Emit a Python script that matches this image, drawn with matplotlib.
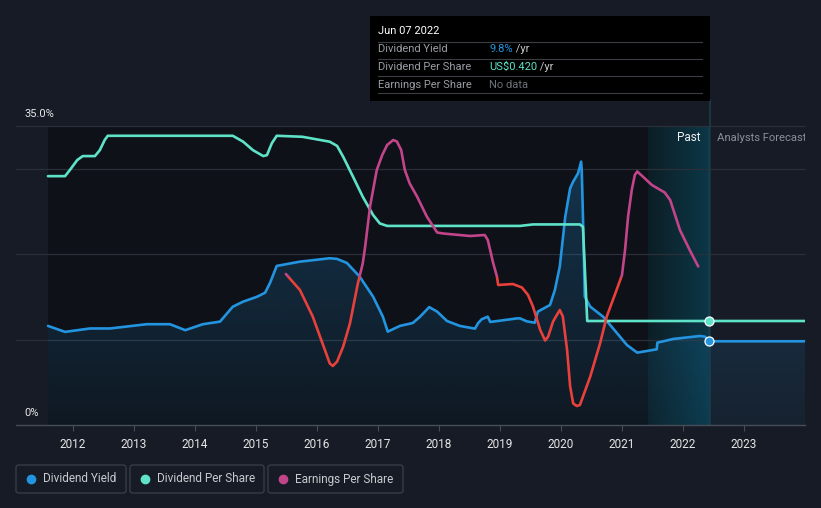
import numpy as np
import matplotlib
matplotlib.use("Agg")
import matplotlib.pyplot as plt
from matplotlib.patches import Rectangle, FancyBboxPatch
from matplotlib.lines import Line2D

# ---------------- data ----------------
dy_years = [2011.59, 2011.87, 2012.28, 2012.61, 2013.21, 2013.59, 2013.84, 2014.13, 2014.41,
            2014.62, 2014.79, 2015.02, 2015.15, 2015.23, 2015.34, 2015.72, 2016.21, 2016.33,
            2016.49, 2016.70, 2016.92, 2017.08, 2017.16, 2017.36, 2017.57, 2017.69, 2017.84,
            2017.97, 2018.13, 2018.34, 2018.59, 2018.64, 2018.70, 2018.80, 2018.84, 2019.28,
            2019.33, 2019.44, 2019.57, 2019.62, 2019.82, 2019.90, 2019.98, 2020.07, 2020.15,
            2020.20, 2020.28, 2020.33, 2020.34, 2020.36, 2020.39, 2020.48, 2020.69, 2020.92,
            2021.08, 2021.25, 2021.34, 2021.57, 2021.58, 2021.84, 2022.28, 2022.36, 2022.43,
            2024.00]
dy_values = [11.6, 10.9, 11.3, 11.3, 11.8, 11.8, 11.1, 11.8, 12.1,
             13.85, 14.44, 15.02, 15.49, 16.63, 18.62, 19.12, 19.52, 19.44,
             18.97, 17.37, 15.02, 12.68, 10.93, 11.6, 11.94, 12.68, 13.80,
             13.27, 12.18, 11.6, 11.28, 11.91, 12.38, 12.68, 12.06, 12.48,
             12.48, 12.13, 11.97, 13.27, 14.05, 15.81, 18.54, 24.39, 27.72,
             28.49, 29.47, 30.83, 29.86, 24.39, 15.02, 13.85, 12.68, 10.74,
             9.37, 8.47, 8.58, 8.86, 9.64, 10.07, 10.42, 10.34, 9.8,
             9.8]

dps_years = [2011.59, 2011.87, 2011.95, 2012.07, 2012.16, 2012.36, 2012.44, 2012.52, 2012.57,
             2014.62, 2014.79, 2014.95, 2015.12, 2015.18, 2015.26, 2015.34, 2015.76, 2016.21,
             2016.33, 2016.43, 2016.59, 2016.75, 2016.92, 2017.03, 2017.15, 2019.33, 2019.54,
             2020.31, 2020.36, 2020.43, 2022.43, 2024.00]
dps_values = [1.005, 1.005, 1.030, 1.070, 1.086, 1.086, 1.110, 1.151, 1.168,
              1.168, 1.144, 1.110, 1.086, 1.090, 1.138, 1.168, 1.164, 1.144,
              1.127, 1.083, 1.003, 0.922, 0.848, 0.814, 0.804, 0.804, 0.810,
              0.810, 0.800, 0.420, 0.420, 0.420]

eps_years = [2015.49, 2015.72, 2015.93, 2016.13, 2016.21, 2016.26, 2016.33, 2016.43, 2016.54,
             2016.67, 2016.75, 2016.79, 2016.87, 2016.98, 2017.07, 2017.15, 2017.25, 2017.31,
             2017.38, 2017.44, 2017.52, 2017.64, 2017.80, 2017.97, 2018.07, 2018.51, 2018.75,
             2018.80, 2018.89, 2018.95, 2018.97, 2019.21, 2019.36, 2019.46, 2019.54, 2019.66,
             2019.74, 2019.79, 2019.87, 2019.98, 2020.03, 2020.10, 2020.15, 2020.20, 2020.26,
             2020.31, 2020.48, 2020.64, 2020.75, 2020.89, 2021.00, 2021.05, 2021.10, 2021.16,
             2021.21, 2021.25, 2021.34, 2021.49, 2021.70, 2021.79, 2021.95, 2022.11, 2022.25]
eps_values = [0.006, -0.026, -0.079, -0.146, -0.173, -0.178, -0.169, -0.139, -0.093,
              -0.013, 0.027, 0.061, 0.141, 0.214, 0.244, 0.264, 0.274, 0.271,
              0.254, 0.214, 0.187, 0.161, 0.121, 0.089, 0.087, 0.082, 0.084,
              0.074, 0.027, 0.001, -0.016, -0.014, -0.021, -0.036, -0.059, -0.106,
              -0.127, -0.119, -0.089, -0.066, -0.079, -0.146, -0.219, -0.253, -0.258,
              -0.256, -0.199, -0.133, -0.079, -0.033, 0.004, 0.054, 0.121, 0.174,
              0.204, 0.211, 0.201, 0.184, 0.169, 0.154, 0.094, 0.054, 0.021]

year_ticks = list(range(2012, 2024))
tooltip_date = "Jun 07 2022"
tooltip_year = 2022.43
tooltip_dy = 9.8
tooltip_dps = 0.420

# ---------------- style ----------------
W, H = 821, 508
BG = "#161b25"
DARK = "#0e1117"
BLUE = "#2394df"
TEAL = "#5ee3c8"
MAGENTA = "#c2448a"
RED = "#e8413c"
GRID = "#2a2f3a"
plt.rcParams["font.family"] = ["Roboto", "DejaVu Sans"]

fig = plt.figure(figsize=(W / 100, H / 100), dpi=100, facecolor=BG)

def fx(x):
    return x / W

def fy(y):
    return 1 - y / H

ax = fig.add_axes([fx(16), fy(425), (805 - 16) / W, (425 - 126) / H])
ax.set_facecolor(BG)
xmin, xmax = 2011.066, 2024.0
for s in ax.spines.values():
    s.set_visible(False)
ax.spines["bottom"].set_visible(True)
ax.spines["bottom"].set_color("#474d58")
ax.spines["bottom"].set_linewidth(1.0)
ax.set_yticks([])
ax.set_xticks(year_ticks)
ax.set_xticklabels([str(y) for y in year_ticks], color="#e6e6e6", fontsize=8.5)
ax.tick_params(axis="x", length=4, color="#474d58", pad=5)

# dark historical region
ax.axvspan(dy_years[0], 2021.426, color=DARK, zorder=0.2, lw=0)
# past band gradient
c0 = np.array([0x0d, 0x1e, 0x25]) / 255
c1 = np.array([0x0b, 0x38, 0x48]) / 255
t = np.linspace(0, 1, 200)
grad = (c0[None, :] * (1 - t[:, None]) + c1[None, :] * t[:, None])[None, :, :]
ax.imshow(grad, extent=[2021.426, 2022.443, 0, 35], aspect="auto", zorder=0.3,
          interpolation="bilinear")

# gridlines
for gv in [10, 20, 30, 35]:
    ax.axhline(gv, color=GRID, lw=0.9, zorder=0.5, clip_on=False)

# dividend yield fill (vertical gradient clipped to area)
poly = ax.fill_between(dy_years, dy_values, 0, color="none", lw=0, zorder=0.6)
gv = np.linspace(0, 1, 256)[:, None]
fill_img = np.zeros((256, 1, 4))
fill_img[..., 0] = 0x23 / 255
fill_img[..., 1] = 0x94 / 255
fill_img[..., 2] = 0xdf / 255
fill_img[..., 3] = 0.06 + 0.22 * gv
im = ax.imshow(fill_img, extent=[xmin, xmax, 0, 32], origin="lower", aspect="auto", zorder=0.6)
im.set_clip_path(poly.get_paths()[0], transform=ax.transData)

# vertical tooltip line (inside axes, below data)
ax.axvline(tooltip_year, color="#1f3a48", lw=1.2, zorder=0.7)
ax.set_xlim(xmin, xmax)
ax.set_ylim(0, 35)

ax.plot(dy_years, dy_values, color=BLUE, lw=1.9, zorder=3, solid_joinstyle="round",
        solid_capstyle="round")

# DPS on its own hidden scale
ax2 = ax.twinx()
ax2.set_ylim(0, 0.420 * 299 / 104)
ax2.set_xlim(xmin, xmax)
ax2.axis("off")
ax2.plot(dps_years, dps_values, color=TEAL, lw=1.9, zorder=3, solid_joinstyle="round",
         solid_capstyle="round")

# EPS on its own hidden scale
ax3 = ax.twinx()
ax3.set_ylim(-0.296, 0.302)
ax3.set_xlim(xmin, xmax)
ax3.axis("off")
pos_line, = ax3.plot(eps_years, eps_values, color=MAGENTA, lw=1.9, solid_joinstyle="round",
                     solid_capstyle="round")
neg_line, = ax3.plot(eps_years, eps_values, color=RED, lw=1.9, solid_joinstyle="round",
                     solid_capstyle="round")
pos_rect = Rectangle((xmin, 0), xmax - xmin, 1.0, transform=ax3.transData)
neg_rect = Rectangle((xmin, -1.0), xmax - xmin, 1.0, transform=ax3.transData)
pos_line.set_clip_path(pos_rect)
neg_line.set_clip_path(neg_rect)

# markers at tooltip date
ax4 = ax.twinx()
ax4.set_ylim(0, 35)
ax4.set_xlim(xmin, xmax)
ax4.axis("off")
ax4.plot([tooltip_year], [tooltip_dy], "o", ms=6.5, mfc=BLUE, mec="white", mew=0.9,
         zorder=5, clip_on=False)
ax4.plot([tooltip_year], [tooltip_dps / (0.420 * 299 / 104) * 35], "o", ms=6.5, mfc=TEAL,
         mec="white", mew=0.9, zorder=5, clip_on=False)

# part of the tooltip line above the axes
fig.add_artist(Line2D([fx(710), fx(710)], [fy(100), fy(126)], color="#1f3a48", lw=1.2))

# Past / Analysts Forecast
ax4.text(2022.28, 33.6, "Past", color="#f0f0f0", fontsize=8.5, ha="right", va="center")
ax4.text(2022.56, 33.6, "Analysts Forecast", color="#8a8f98", fontsize=8.1, ha="left",
         va="center", clip_on=True)

# y labels
fig.text(fx(24), fy(114), "35.0%", color="#e6e6e6", fontsize=8, va="center", ha="left")
fig.text(fx(24), fy(413), "0%", color="#e6e6e6", fontsize=8, va="center", ha="left")

# tooltip box
fig.add_artist(Rectangle((fx(370), fy(101)), (710 - 370) / W, (101 - 16) / H,
                         transform=fig.transFigure, facecolor="#000000", edgecolor="none",
                         zorder=10))
fig.text(fx(378), fy(31), tooltip_date, color="#ffffff", fontsize=8, va="center", zorder=11)
for ly in [41.5, 58.5, 76, 93]:
    fig.add_artist(Line2D([fx(378), fx(702)], [fy(ly), fy(ly)], color="#3a3d44", lw=0.8,
                          zorder=11))
rows = [("Dividend Yield", f"{tooltip_dy:.1f}%", BLUE, " /yr", 49.5),
        ("Dividend Per Share", f"US${tooltip_dps:.3f}", TEAL, " /yr", 67),
        ("Earnings Per Share", "No data", "#6e7178", "", 84.5)]
fig.canvas.draw()
for lab, val, col, suf, yy in rows:
    fig.text(fx(378), fy(yy), lab, color="#9a9da4", fontsize=8, va="center", zorder=11)
    tt = fig.text(fx(489), fy(yy), val, color=col, fontsize=8, va="center", zorder=11)
    if suf:
        bb = tt.get_window_extent(renderer=fig.canvas.get_renderer())
        fig.text(bb.x1 / W, fy(yy), suf, color="#c8c8c8", fontsize=8, va="center", zorder=11)

# legend
legend_items = [("Dividend Yield", BLUE, 16, 126), ("Dividend Per Share", TEAL, 130, 264),
                ("Earnings Per Share", MAGENTA, 268, 403)]
for lab, col, x0, x1 in legend_items:
    fig.add_artist(FancyBboxPatch((fx(x0), fy(493)), (x1 - x0) / W, (493 - 465) / H,
                                  boxstyle="round,pad=0,rounding_size=0.004",
                                  transform=fig.transFigure, facecolor="none",
                                  edgecolor="#3a404b", lw=0.9))
    fig.add_artist(Line2D([fx(x0 + 15)], [fy(479)], marker="o", ms=6, color=col, lw=0))
    fig.text(fx(x0 + 27), fy(479), lab, color="#c8cacf", fontsize=8.5, va="center", ha="left")

fig.savefig("out.png", dpi=100, facecolor=BG)
